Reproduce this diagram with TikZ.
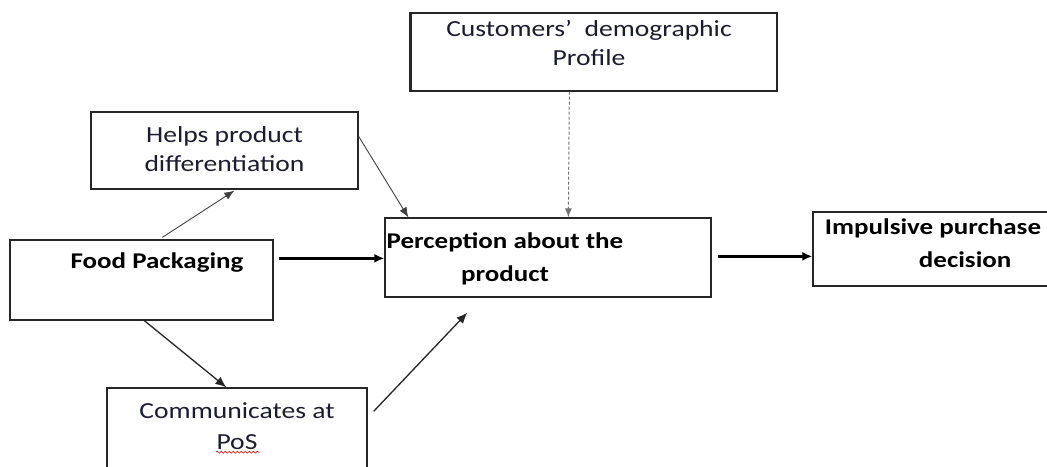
\documentclass[tikz,border=0pt]{standalone}
\usepackage{fontspec}
\setmainfont{Carlito}[FakeStretch=1.2]
\usetikzlibrary{arrows.meta,calc,decorations.pathmorphing}
\definecolor{ink}{RGB}{28,28,48}
\begin{document}
\begin{tikzpicture}[x=1pt,y=-1pt,
  box/.style={draw=black!85, line width=1.3pt, rectangle, inner sep=0pt},
  lbl/.style={inner sep=0pt, text=ink, align=center},
  reg/.style={font=\fontsize{23}{29}\selectfont},
  bld/.style={font=\fontsize{22.5}{33}\selectfont\bfseries, text=black},
  thinarrow/.style={draw=black!75, line width=0.9pt, -{Latex[length=10pt,width=8pt]}},
  midarrow/.style={draw=black!85, line width=1.3pt, -{Latex[length=11pt,width=9pt]}},
  boldarrow/.style={draw=black, line width=2.4pt, -{Latex[length=10pt,width=9pt]}},
  dasharrow/.style={draw=black!55, line width=1pt, dash pattern=on 3pt off 2pt, -{Latex[length=9pt,width=7pt]}}
]
\useasboundingbox[fill=white] (0,0) rectangle (1047,466);

% boxes
\node[box, minimum width=366pt, minimum height=78pt] (cust) at (594,52) {};
\draw[black!85, line width=2.4pt] (cust.north west) -- (cust.south west);
\node[box, minimum width=267pt, minimum height=77pt] (helps) at (224.5,150.5) {};
\node[box, minimum width=263pt, minimum height=80pt] (food) at (141.5,280) {};
\node[box, minimum width=326pt, minimum height=79pt] (perc) at (548,257.5) {};
\node[box, minimum width=245pt, minimum height=74pt] (imp) at (935.5,249) {};
\node[box, minimum width=260pt, minimum height=90pt] (comm) at (237,433) {};

% labels
\node[lbl, reg] (custtxt) at (589,43) {Customers’\ \ demographic\\Profile};
\node[lbl, reg] (helpstxt) at (224.5,149) {Helps product\\differentiation};
\node[lbl, bld] (foodtxt) at (157,263) {Food Packaging};
\node[lbl, bld] (perctxt) at (505,258.5) {Perception about the\\product};
\node[lbl, bld, align=left] (imptxt) at (933,243.5) {Impulsive purchase\\\hspace*{94pt}decision};
\node[lbl, reg, font=\fontsize{23}{31}\selectfont] (commtxt) at (237,426.5) {Communicates at\\PoS};
\draw[red!85!black, line width=0.6pt, decorate, decoration={snake, amplitude=1pt, segment length=4pt}]
  ($(commtxt.south)+(-21,2)$) -- ($(commtxt.south)+(23,2)$);

% connectors
\draw[thinarrow] ($(food.north west)+(153,-2)$) -- ($(helps.south west)+(144,1)$);
\draw[boldarrow] ($(food.north east)+(5,19)$) -- ($(perc.north west)+(0,41)$);
\draw[thinarrow] ($(helps.north east)+(0,25)$) -- ($(perc.north west)+(24,0)$);
\draw[dasharrow] ($(cust.south west)+(159,0)$) -- ($(perc.north west)+(184,0)$);
\draw[midarrow] ($(food.south west)+(135,0)$) -- ($(comm.north west)+(120,0)$);
\draw[midarrow] ($(comm.north east)+(6,24)$) -- ($(perc.south west)+(83,15)$);
\draw[boldarrow] ($(perc.north east)+(6,39)$) -- ($(imp.north west)+(0,45)$);
\end{tikzpicture}
\end{document}
